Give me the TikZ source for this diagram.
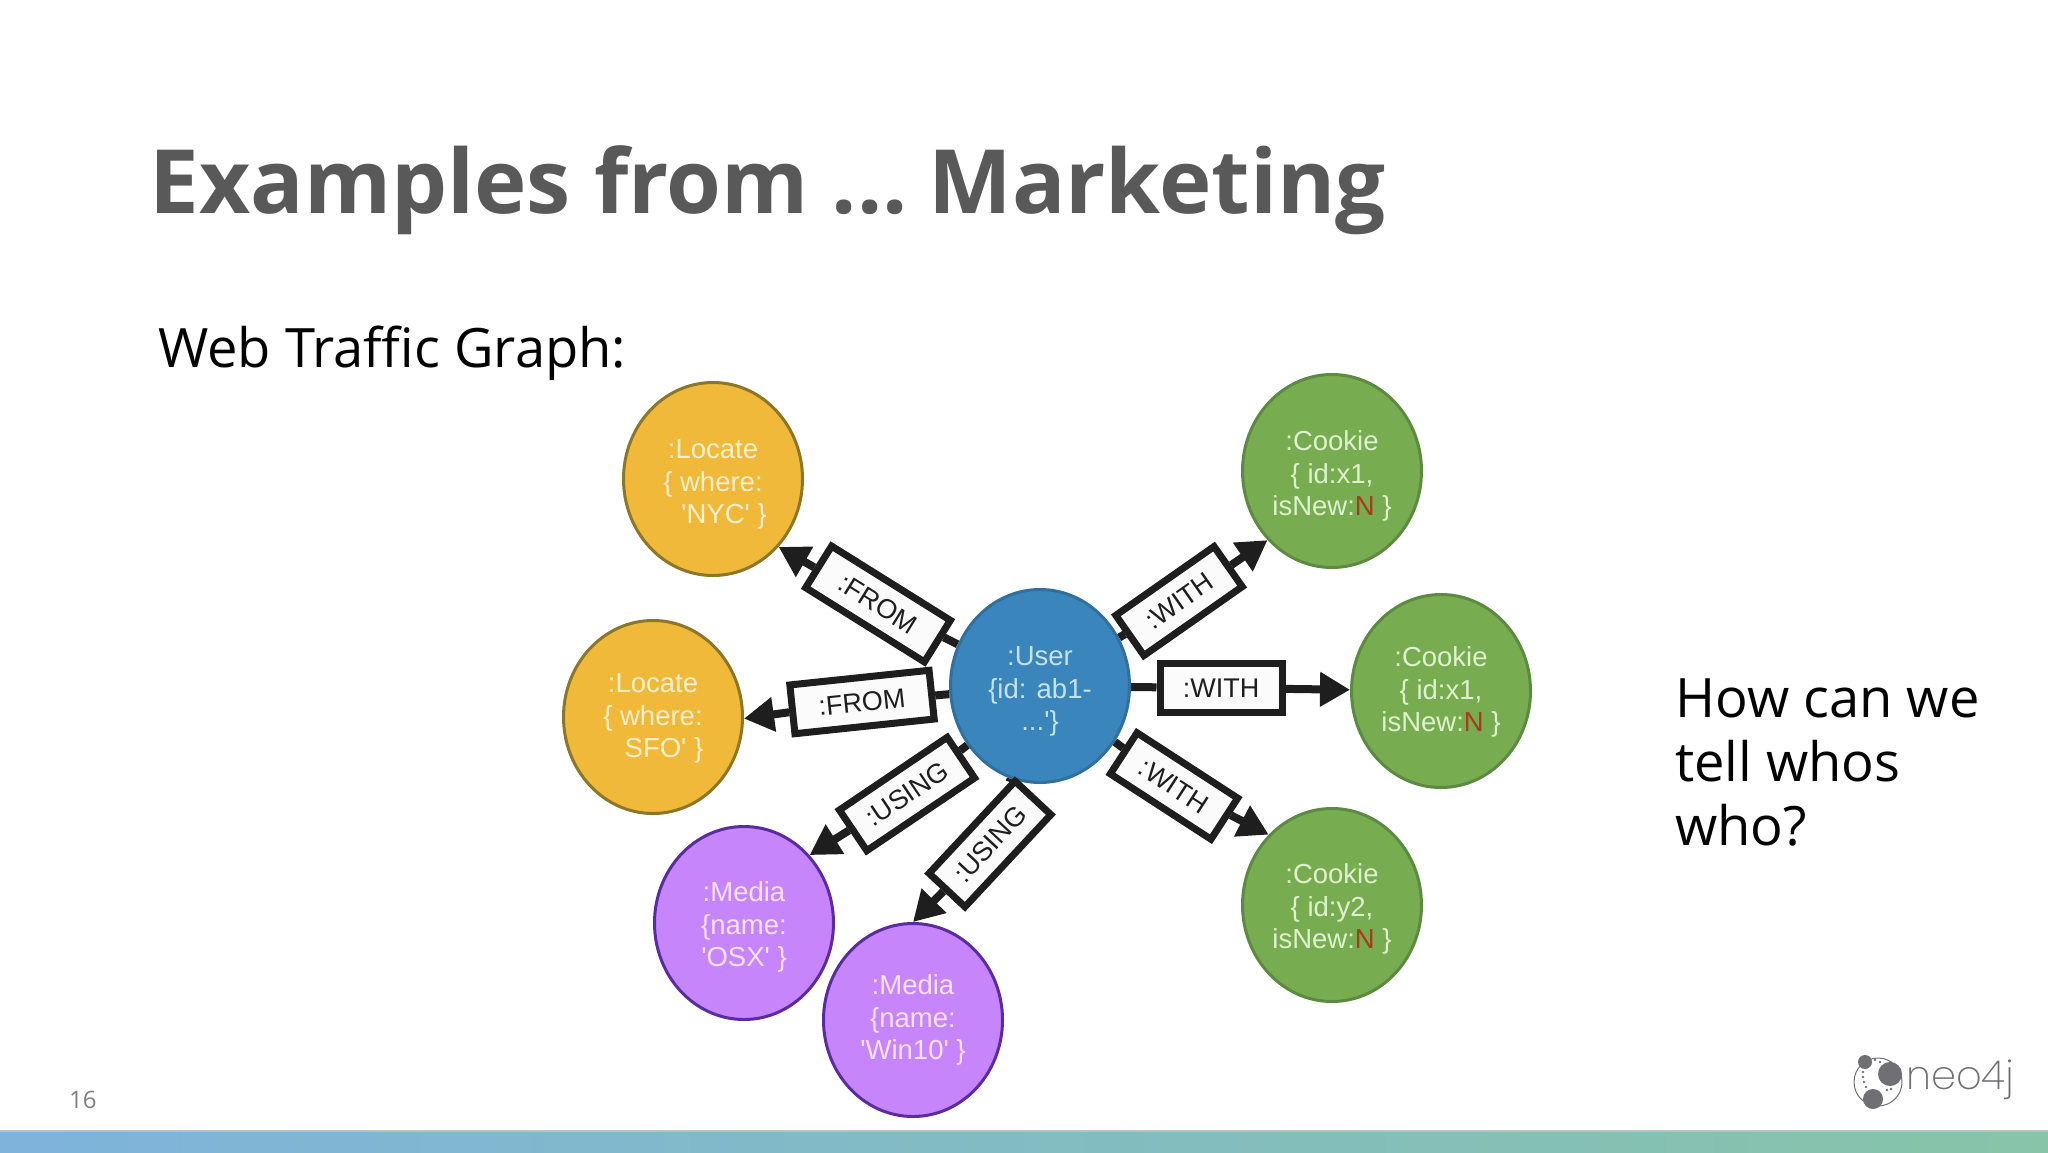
\documentclass[tikz,border=0pt]{standalone}
\usepackage{fontspec}
\usetikzlibrary{shapes.geometric,arrows.meta}
\newfontfamily\labf{Liberation Sans}
\newfontfamily\slidef{Open Sans}
\newfontfamily\logof{Poppins ExtraLight}
\definecolor{ttl}{HTML}{595959}
\definecolor{boxedge}{HTML}{1E1E1E}
\definecolor{boxfill}{HTML}{FBFBFB}
\definecolor{ufill}{RGB}{58,133,188}
\definecolor{uedge}{RGB}{48,112,160}
\definecolor{utext}{RGB}{196,226,242}
\definecolor{lfill}{RGB}{241,185,58}
\definecolor{ledge}{RGB}{140,118,40}
\definecolor{ltext}{RGB}{252,240,205}
\definecolor{cfill}{RGB}{119,173,80}
\definecolor{cedge}{RGB}{92,138,64}
\definecolor{ctext}{RGB}{222,242,205}
\definecolor{mfill}{RGB}{199,133,251}
\definecolor{medge}{RGB}{90,44,160}
\definecolor{mtext}{RGB}{250,225,255}
\definecolor{logoc}{RGB}{112,112,116}
\definecolor{footl}{RGB}{127,179,220}
\definecolor{footr}{RGB}{135,196,168}
\definecolor{newred}{HTML}{A83A1E}
\pgfdeclarelayer{bg}
\pgfsetlayers{bg,main}
\tikzset{
  gnode/.style={ellipse,draw,line width=3pt,minimum width=179pt,minimum height=193pt,inner sep=0pt,align=center,font=\labf\fontsize{27.5}{32.6}\selectfont},
  usernode/.style={gnode,fill=ufill,draw=uedge,text=utext},
  locnode/.style={gnode,fill=lfill,draw=ledge,text=ltext},
  cooknode/.style={gnode,fill=cfill,draw=cedge,text=ctext},
  medianode/.style={gnode,fill=mfill,draw=medge,text=mtext},
  relbox/.style={draw=boxedge,fill=boxfill,line width=7pt,minimum width=122pt,minimum height=49pt,inner sep=0pt,text=boxedge,font=\labf\fontsize{27}{32}\selectfont},
  stub/.style={draw=boxedge,line width=8pt},
  rel/.style={draw=boxedge,line width=8pt,-{Triangle[length=30pt,width=33pt]}},
  slidetxt/.style={inner sep=0pt,text=black,font=\slidef\fontsize{54.3}{64}\selectfont},
  logogrey/.style={fill=logoc,draw=none}
}
\newcommand{\isnew}{\textcolor{newred}{N}}
\newcommand{\tg}[1]{\rule{0pt}{#1pt}}
\begin{document}
\begin{tikzpicture}[x=1pt,y=-1pt]
\useasboundingbox (0,0) rectangle (2048,1152);
% footer
\begin{pgfonlayer}{bg}
\fill[white] (0,0) rectangle (2048,1152);
\shade[left color=footl,right color=footr] (0,1131) rectangle (2048,1152);
\fill[black!25] (0,1130) rectangle (2048,1131.5);
\end{pgfonlayer}
% slide text
\node[anchor=base west,inner sep=0pt,text=ttl,font=\slidef\bfseries\fontsize{88.7}{94}\selectfont] (title) at (149.5,213) {Examples from ...\hspace{-10pt} Marketing};
\node[anchor=base west,slidetxt] (sub) at (158,367) {Web Traffic Graph:};
\node[anchor=west,slidetxt,align=left] (q) at (1675,762) {How can we\\tell whos\\who?};
\node[anchor=base west,inner sep=0pt,text=black!50,font=\slidef\fontsize{24}{28}\selectfont] (pg) at (69,1108) {16};
% graph nodes
\node[usernode] (user) at (1040,686) {\tg{30}:User\\\{id: ab1-\\...'\}};
\node[locnode] (nyc) at (713,479) {\tg{30}:Locate\\\{ where:\\\hspace*{22pt}'NYC' \}};
\node[locnode] (sfo) at (653,717) {\tg{22}:Locate\\\{ where:\\\hspace*{22pt}SFO' \}};
\node[cooknode] (c1) at (1332,471) {\tg{30}:Cookie\\\{ id:x1,\\isNew:\isnew\ \}};
\node[cooknode] (c2) at (1441,691) {\tg{22}:Cookie\\\{ id:x1,\\isNew:\isnew\ \}};
\node[cooknode] (c3) at (1332,905) {\tg{28}:Cookie\\\{ id:y2,\\isNew:\isnew\ \}};
\node[medianode] (osx) at (744,923) {\tg{28}:Media\\\{name:\\'OSX' \}};
\node[medianode] (win) at (913,1020) {:Media\\\{name:\\'Win10' \}};
% relationship boxes
\node[relbox,minimum width=140pt,rotate=6] (r2) at (862,702) {:FROM};
\node[relbox,minimum width=140pt,rotate=-32] (r1) at (878,604) {:FROM};
\node[relbox,minimum width=120pt,rotate=35] (r3) at (1179,601) {:WITH};
\node[relbox,minimum width=122pt,rotate=0] (r4) at (1221,688) {:WITH};
\node[relbox,minimum width=120pt,rotate=-33] (r5) at (1174,786) {:WITH};
\node[relbox,minimum width=130pt,rotate=34] (r6) at (907,794) {:USING};
\node[relbox,minimum width=126pt,rotate=47] (r7) at (990,844) {:USING};
% connectors
\begin{pgfonlayer}{bg}
\draw[stub] (user) -- (r1);
\draw[stub] (user) -- (r2);
\draw[stub] (user) -- (r3);
\draw[stub] (user) -- (r4);
\draw[stub] (user) -- (r5);
\draw[stub] (user) -- (r6);
\draw[stub] (user) -- (r7);
\draw[rel] (r1) -- (nyc.-46);
\draw[rel] (r2) -- (sfo.-1);
\draw[rel] (r3) -- (c1.-133);
\draw[rel] (r4) -- (c2);
\draw[rel] (r5) -- (c3.132);
\draw[rel] (r6) -- (osx.46);
\draw[rel] (r7) -- (win.90);
\end{pgfonlayer}
% logo
\draw[line width=1pt,draw=logoc] (1878,1082) circle (24);
\fill[logogrey] (1890,1074) circle (12);
\fill[logogrey] (1865,1062) circle (7);
\fill[logogrey] (1873,1099) circle (10);
\foreach \dx/\dy in {1875/1060,1880/1062,1863/1072,1863/1077,1864/1082,1866/1087,1887/1090,1891/1089}
  \fill[logogrey] (\dx,\dy) circle (1.4);
\node[anchor=base west,inner sep=0pt,text=logoc,font=\logof\fontsize{40}{44}\selectfont] (logo) at (1906,1089) {neo4j};
\end{tikzpicture}
\end{document}
